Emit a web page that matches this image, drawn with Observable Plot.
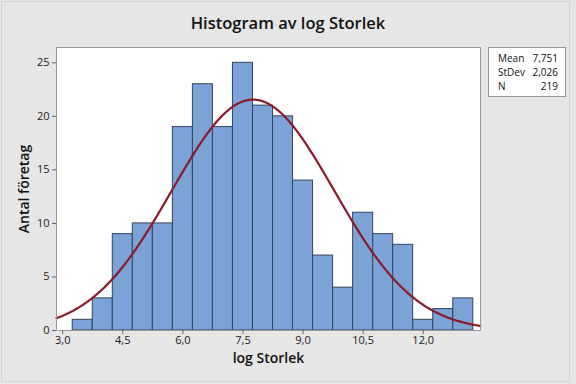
<!DOCTYPE html>
<html>
<head>
<meta charset="utf-8">
<script src="https://cdn.jsdelivr.net/npm/d3@7"></script>
<script src="https://cdn.jsdelivr.net/npm/@observablehq/plot@0.6"></script>
<style>
  html, body { margin: 0; padding: 0; background: #e6e6e6; }
  #fig { position: relative; width: 576px; height: 384px; background: #e6e6e6; overflow: hidden;
         font-family: "Open Sans", "Noto Sans", sans-serif; }
  #border { position: absolute; left: 1px; top: 1px; width: 569px; height: 381px; border: 1px solid #d2d2d2; box-sizing: border-box; pointer-events: none; }
  #title { height: 40px; line-height: 46px; text-align: center; font-size: 16.5px; font-weight: 600; color: #111; }
  #stats { position: absolute; left: 488px; top: 47px; width: 78px; height: 50px; background: #fff; border: 1px solid #9a9a9a;
           box-sizing: border-box; font-size: 10px; color: #111; padding: 3px 7px 0 9px; line-height: 14px; }
  #stats .row { display: flex; justify-content: space-between; }
  svg { display: block; }
</style>
</head>
<body>
<div id="fig">
  <div id="border"></div>
  <div id="title">Histogram av log Storlek</div>
  <div id="chart"></div>
  <div id="stats"></div>
</div>
<script>
// Bin midpoints (bin width 0.5) and counts
const midpoints = [3.5, 4.0, 4.5, 5.0, 5.5, 6.0, 6.5, 7.0, 7.5, 8.0, 8.5, 9.0, 9.5, 10.0, 10.5, 11.0, 11.5, 12.0, 12.5, 13.0];
const counts    = [1,   3,   9,   10,  10,  19,  23,  19,  25,  21,  20,  14,  7,   4,   11,  9,   8,   1,   2,   3];
const binWidth = 0.5;

// Summary statistics shown in the legend box
const statLabels = ["Mean", "StDev", "N"];
const statValues = ["7,751", "2,026", "219"];
const mean = 7.751, stdev = 2.026, n = 219;

// Axis ticks
const xTicks = [3.0, 4.5, 6.0, 7.5, 9.0, 10.5, 12.0];
const yTicks = [0, 5, 10, 15, 20, 25];
const xDomain = [2.845, 13.43];
const yDomain = [0, 26.43];

const bars = midpoints.map((m, i) => ({x1: m - binWidth / 2, x2: m + binWidth / 2, count: counts[i]}));

// Fitted normal curve defined by the displayed Mean, StDev and N
const curve = d3.range(xDomain[0], xDomain[1] + 0.001, 0.02).map(x => ({
  x,
  y: n * binWidth * Math.exp(-0.5 * ((x - mean) / stdev) ** 2) / (stdev * Math.sqrt(2 * Math.PI))
}));

const fmt = d => d.toFixed(1).replace(".", ",");

const chart = Plot.plot({
  width: 576,
  height: 344,
  marginLeft: 56,
  marginRight: 96,
  marginTop: 7,
  marginBottom: 54,
  style: {background: "transparent", fontFamily: "'Open Sans', 'Noto Sans', sans-serif", fontSize: "11px", color: "#222"},
  x: {domain: xDomain},
  y: {domain: yDomain},
  marks: [
    Plot.frame({fill: "white", stroke: "none"}),
    Plot.rectY(bars, {x1: "x1", x2: "x2", y: "count", fill: "#7ba3d8", stroke: "#34435c", strokeWidth: 1, inset: 0}),
    Plot.line(curve, {x: "x", y: "y", stroke: "#8b1a2b", strokeWidth: 2.2, curve: "linear"}),
    Plot.frame({stroke: "#9a9a9a", strokeWidth: 1}),
    Plot.axisX({ticks: xTicks, tickFormat: fmt, tickSize: 4, tickPadding: 2, label: null, stroke: "#666", fill: "#222"}),
    Plot.axisY({ticks: yTicks, tickSize: 4, tickPadding: 3, label: null, stroke: "#666", fill: "#222"}),
    Plot.text(["log Storlek"], {text: d => d, frameAnchor: "bottom", textAnchor: "middle", lineAnchor: "middle", dy: 28, fontSize: 14, fontWeight: 600, fill: "#111"}),
    Plot.text(["Antal företag"], {text: d => d, frameAnchor: "left", textAnchor: "middle", lineAnchor: "middle", rotate: -90, dx: -32, fontSize: 14, fontWeight: 600, fill: "#111"})
  ]
});
document.getElementById("chart").appendChild(chart);

const stats = document.getElementById("stats");
statLabels.forEach((lab, i) => {
  const row = document.createElement("div");
  row.className = "row";
  row.innerHTML = `<span>${lab}</span><span>${statValues[i]}</span>`;
  stats.appendChild(row);
});
</script>
</body>
</html>
